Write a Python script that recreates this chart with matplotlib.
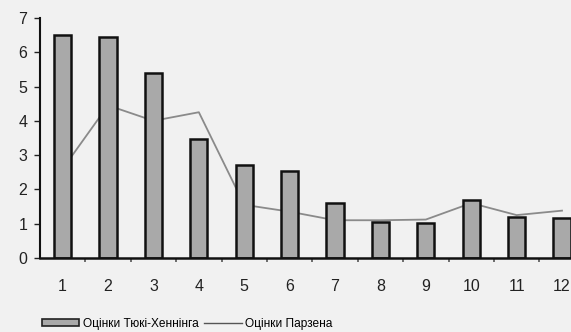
import matplotlib.pyplot as plt
from matplotlib.patches import Patch
from matplotlib.lines import Line2D

# дані
categories = [1, 2, 3, 4, 5, 6, 7, 8, 9, 10, 11, 12]
tukey_hanning = [6.5, 6.45, 5.4, 3.47, 2.71, 2.55, 1.6, 1.05, 1.02, 1.69, 1.2, 1.17]
parzen = [2.6, 4.45, 4.0, 4.25, 1.55, 1.35, 1.1, 1.1, 1.12, 1.6, 1.25, 1.38]
y_ticks = [0, 1, 2, 3, 4, 5, 6, 7]
legend_labels = ['Оцінки Тюкі-Хеннінга', 'Оцінки Парзена']

bg = '#f1f1f1'
plt.rcParams['font.family'] = ['Liberation Sans', 'DejaVu Sans']

fig = plt.figure(figsize=(5.71, 3.32), dpi=100, facecolor=bg)
ax = fig.add_axes([0.07, 0.223, 0.954, 0.723])
ax.set_facecolor(bg)

# лінія під стовпчиками
ax.plot(categories, parzen, color='#8a8a8a', linewidth=1.3, zorder=1)
ax.bar(categories, tukey_hanning, width=0.38, color='#a9a9a9',
       edgecolor='#111111', linewidth=1.8, zorder=2)

ax.set_xlim(0.5, 12.5)
ax.set_ylim(0, 7)
ax.set_yticks(y_ticks)
ax.set_xticks(categories)
ax.set_xticks([c + 0.5 for c in categories[:-1]], minor=True)

for s in ['top', 'right']:
    ax.spines[s].set_visible(False)
ax.spines['left'].set_linewidth(1.5)
ax.spines['bottom'].set_linewidth(1.8)
ax.spines['left'].set_color('#111111')
ax.spines['bottom'].set_color('#111111')

ax.tick_params(axis='y', length=4, width=1, labelsize=11.5, pad=5, colors='#222222')
ax.tick_params(axis='x', which='major', length=0, labelsize=11.5, pad=15, colors='#222222')
ax.tick_params(axis='x', which='minor', length=3, width=1.2, direction='out', colors='#555555')

handles = [Patch(facecolor='#a9a9a9', edgecolor='#222222', linewidth=1.2),
           Line2D([0], [0], color='#555555', linewidth=1)]
fig.legend(handles, legend_labels, loc='lower left', bbox_to_anchor=(0.055, -0.025),
           ncol=2, frameon=False, fontsize=8.6, handlelength=3.1, handleheight=0.6,
           handletextpad=0.3, columnspacing=0.5)

plt.savefig('out.png', dpi=100, facecolor=bg)
